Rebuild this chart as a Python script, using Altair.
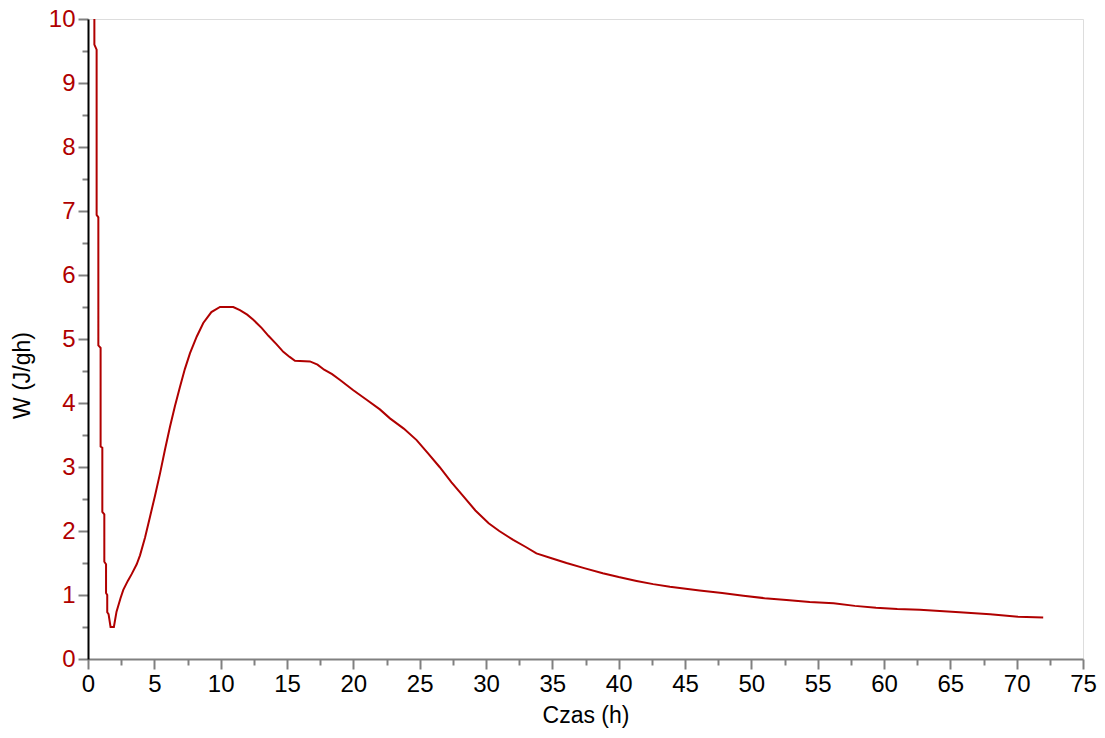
import altair as alt
import pandas as pd

# Time (h) and heat-flow (J/gh) readings of the calorimetric curve
czas = [0.48, 0.48, 0.65, 0.65, 0.78, 0.78, 0.95, 0.95, 1.08, 1.08, 1.23, 1.23,
        1.36, 1.36, 1.45, 1.45, 1.55, 1.70, 1.95, 2.15, 2.45, 2.66, 3.00, 3.30,
        3.67, 3.92, 4.30, 4.67, 5.05, 5.43, 5.80, 6.18, 6.55, 6.93, 7.30, 7.69,
        8.20, 8.69, 9.30, 9.95, 10.95, 11.45, 12.00, 12.46, 13.10, 13.60, 14.20,
        14.72, 15.20, 15.60, 16.73, 17.30, 17.80, 18.40, 19.00, 20.00, 21.00,
        22.00, 22.76, 23.80, 24.77, 25.60, 26.50, 27.40, 28.30, 29.20, 30.20,
        31.00, 32.05, 33.00, 33.80, 35.00, 36.07, 37.40, 38.80, 40.00, 41.35,
        42.60, 43.86, 46.10, 47.80, 49.40, 51.00, 52.65, 54.40, 56.20, 57.80,
        59.40, 61.00, 62.70, 64.20, 65.70, 68.00, 70.10, 72.00]
moc = [10.00, 9.60, 9.52, 6.94, 6.90, 4.90, 4.86, 3.32, 3.30, 2.30, 2.26, 1.52,
       1.48, 1.03, 1.00, 0.73, 0.70, 0.50, 0.50, 0.74, 0.95, 1.08, 1.22, 1.33,
       1.48, 1.62, 1.90, 2.22, 2.55, 2.90, 3.27, 3.63, 3.95, 4.25, 4.53, 4.78,
       5.04, 5.25, 5.42, 5.50, 5.50, 5.45, 5.38, 5.30, 5.17, 5.05, 4.92,
       4.80, 4.72, 4.66, 4.65, 4.60, 4.52, 4.45, 4.36, 4.20, 4.05,
       3.90, 3.76, 3.60, 3.42, 3.22, 3.00, 2.76, 2.54, 2.32, 2.12,
       2.00, 1.86, 1.75, 1.65, 1.57, 1.50, 1.42, 1.34, 1.28, 1.22,
       1.17, 1.13, 1.07, 1.03, 0.99, 0.95, 0.92, 0.89, 0.87, 0.83,
       0.80, 0.78, 0.77, 0.75, 0.73, 0.70, 0.66, 0.65]

x_major = [i * 5 for i in range(16)]
x_minor = [i * 5 + 2.5 for i in range(15)]
y_major = list(range(11))
y_minor = [i + 0.5 for i in range(10)]

df = pd.DataFrame({"czas": czas, "W": moc, "kolejnosc": list(range(len(czas)))})

RED = "#b00000"
FONT = "Liberation Sans"
TICK = "#808080"

x_scale = alt.Scale(domain=[0, 75], nice=False)
y_scale = alt.Scale(domain=[0, 10], nice=False)

x_axis = alt.Axis(
    orient="bottom", values=x_major, format="d",
    labelFontSize=24, labelColor="black", labelFont=FONT, labelPadding=3,
    labelFlush=False, labelOverlap=False,
    tickColor=TICK, tickWidth=2, tickSize=10,
    domainColor=TICK, domainWidth=2, grid=False,
    title="Czas (h)", titleFontSize=23, titleFont=FONT, titleFontWeight="normal",
    titleColor="black", titlePadding=8,
)
y_axis = alt.Axis(
    orient="left", values=y_major, format="d",
    labelFontSize=24, labelColor=RED, labelFont=FONT, labelPadding=3,
    labelFlush=False, labelOverlap=False,
    tickColor=TICK, tickWidth=2, tickSize=10,
    domainColor="black", domainWidth=2, grid=False,
    title="W (J/gh)", titleFontSize=23, titleFont=FONT, titleFontWeight="normal",
    titleColor="black", titlePadding=14, titleY=356,
)
# minor tick axes (no labels, no domain)
x_axis_minor = alt.Axis(
    orient="bottom", values=x_minor, labels=False, domain=False, grid=False,
    tickColor=TICK, tickWidth=2, tickSize=6, title="",
)
y_axis_minor = alt.Axis(
    orient="left", values=y_minor, labels=False, domain=False, grid=False,
    tickColor=TICK, tickWidth=2, tickSize=6, title="",
)

base = alt.Chart(df)

minor = base.mark_line(opacity=0).encode(
    x=alt.X("czas:Q", scale=x_scale, axis=x_axis_minor),
    y=alt.Y("W:Q", scale=y_scale, axis=y_axis_minor),
    order="kolejnosc:Q",
)

curve = base.mark_line(color=RED, strokeWidth=2, clip=True).encode(
    x=alt.X("czas:Q", scale=x_scale, axis=x_axis),
    y=alt.Y("W:Q", scale=y_scale, axis=y_axis),
    order="kolejnosc:Q",
)

chart = alt.layer(minor, curve).resolve_axis(
    x="independent", y="independent"
).properties(
    width=995, height=640,
    autosize=alt.AutoSizeParams(type="none"),
    padding={"left": 88, "top": 19, "right": 22, "bottom": 79},
).configure_view(stroke=None).configure(background="white")

chart.save("out.html", embed_options={"renderer": "svg", "actions": False})
